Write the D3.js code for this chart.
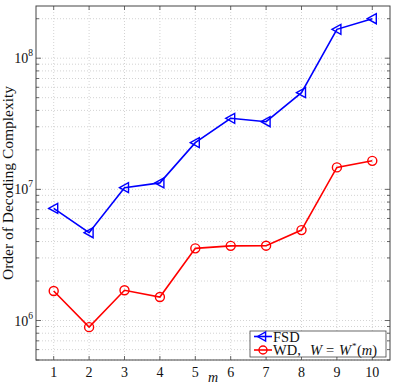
<!DOCTYPE html>
<html>
<head>
<meta charset="utf-8">
<script src="https://cdn.jsdelivr.net/npm/d3@7"></script>
<style>
  body { margin: 0; background: #fff; }
  svg text { font-family: "Liberation Serif", "DejaVu Serif", serif; fill: #111; }
</style>
</head>
<body>
<script>
// data
var mValues = [1, 2, 3, 4, 5, 6, 7, 8, 9, 10];
var fsd = [7.16e6, 4.67e6, 1.03e7, 1.12e7, 2.27e7, 3.48e7, 3.28e7, 5.46e7, 1.66e8, 2.0e8];
var wd  = [1.68e6, 8.9e5, 1.70e6, 1.51e6, 3.55e6, 3.71e6, 3.72e6, 4.89e6, 1.47e7, 1.65e7];
var yTickExps = [6, 7, 8];
var seriesNames = ["FSD", "WD"];

var width = 395, height = 385;
var margin = {left: 36, right: 5, top: 6, bottom: 25};

var svg = d3.select("body").append("svg")
  .attr("width", width)
  .attr("height", height);

var x = d3.scaleLinear().domain([0.5, 10.5]).range([margin.left, width - margin.right]);
var y = d3.scaleLog().domain([5e5, 2.5e8]).range([height - margin.bottom, margin.top]);

// grid
var minorTicks = [];
for (var e = 5; e <= 8; e++) {
  for (var k = 1; k <= 9; k++) {
    var v = k * Math.pow(10, e);
    if (v >= 5e5 && v <= 2.5e8) minorTicks.push(v);
  }
}
function isMajor(d) {
  return yTickExps.some(function (p) { return Math.abs(Math.pow(10, p) - d) < 1; });
}
var grid = svg.append("g");
grid.selectAll("line.gy").data(minorTicks).enter().append("line")
  .attr("x1", margin.left).attr("x2", width - margin.right)
  .attr("y1", function (d) { return y(d); }).attr("y2", function (d) { return y(d); })
  .attr("stroke", "#c8c8c8").attr("stroke-width", 0.8).attr("stroke-dasharray", "1,2");
grid.selectAll("line.gx").data(mValues).enter().append("line")
  .attr("y1", margin.top).attr("y2", height - margin.bottom)
  .attr("x1", function (d) { return x(d); }).attr("x2", function (d) { return x(d); })
  .attr("stroke", "#c8c8c8").attr("stroke-width", 0.8).attr("stroke-dasharray", "1,2");

// ticks inside the box
svg.selectAll("line.ty").data(minorTicks).enter().append("line")
  .attr("x1", margin.left).attr("x2", function (d) { return margin.left + (isMajor(d) ? 5 : 3); })
  .attr("y1", function (d) { return y(d); }).attr("y2", function (d) { return y(d); })
  .attr("stroke", "#444").attr("stroke-width", 0.8);
svg.selectAll("line.tyr").data(minorTicks).enter().append("line")
  .attr("x1", width - margin.right).attr("x2", function (d) { return width - margin.right - (isMajor(d) ? 5 : 3); })
  .attr("y1", function (d) { return y(d); }).attr("y2", function (d) { return y(d); })
  .attr("stroke", "#444").attr("stroke-width", 0.8);
svg.selectAll("line.tx").data(mValues).enter().append("line")
  .attr("y1", height - margin.bottom).attr("y2", height - margin.bottom - 4)
  .attr("x1", function (d) { return x(d); }).attr("x2", function (d) { return x(d); })
  .attr("stroke", "#444").attr("stroke-width", 0.8);
svg.selectAll("line.txt").data(mValues).enter().append("line")
  .attr("y1", margin.top).attr("y2", margin.top + 4)
  .attr("x1", function (d) { return x(d); }).attr("x2", function (d) { return x(d); })
  .attr("stroke", "#444").attr("stroke-width", 0.8);

// box
svg.append("rect")
  .attr("x", margin.left).attr("y", margin.top)
  .attr("width", width - margin.left - margin.right)
  .attr("height", height - margin.top - margin.bottom)
  .attr("fill", "none").attr("stroke", "#444").attr("stroke-width", 1);

// tick labels
svg.selectAll("text.xl").data(mValues).enter().append("text")
  .attr("x", function (d) { return x(d); })
  .attr("y", height - margin.bottom + 17)
  .attr("text-anchor", "middle")
  .style("font-size", "14px")
  .text(function (d) { return d; });

var yl = svg.selectAll("text.yl").data(yTickExps).enter().append("text")
  .attr("x", margin.left - 3)
  .attr("y", function (d) { return y(Math.pow(10, d)) + 5; })
  .attr("text-anchor", "end")
  .style("font-size", "14px");
yl.append("tspan").text("10");
yl.append("tspan").attr("dy", -7).style("font-size", "9.5px").text(function (d) { return d; });

// axis titles
svg.append("text")
  .attr("transform", "translate(12.5," + ((margin.top + height - margin.bottom) / 2) + ") rotate(-90)")
  .attr("text-anchor", "middle")
  .style("font-size", "15.5px")
  .text("Order of Decoding Complexity");
svg.append("text")
  .attr("x", 213)
  .attr("y", height - 3)
  .attr("text-anchor", "middle")
  .style("font-size", "14px").style("font-style", "italic")
  .text("m");

// series
var line = d3.line()
  .x(function (d, i) { return x(mValues[i]); })
  .y(function (d) { return y(d); });

function tri(cx, cy, s) {
  // left-pointing triangle
  return "M" + (cx - s) + "," + cy + "L" + (cx + s * 0.8) + "," + (cy - s) + "L" + (cx + s * 0.8) + "," + (cy + s) + "Z";
}

svg.append("path").datum(fsd).attr("d", line)
  .attr("fill", "none").attr("stroke", "#0000ff").attr("stroke-width", 1.6);
svg.selectAll("path.mk").data(fsd).enter().append("path")
  .attr("d", function (d, i) { return tri(x(mValues[i]), y(d), 5); })
  .attr("fill", "none").attr("stroke", "#0000ff").attr("stroke-width", 1.4);

svg.append("path").datum(wd).attr("d", line)
  .attr("fill", "none").attr("stroke", "#ff0000").attr("stroke-width", 1.6);
svg.selectAll("circle.mk").data(wd).enter().append("circle")
  .attr("cx", function (d, i) { return x(mValues[i]); })
  .attr("cy", function (d) { return y(d); })
  .attr("r", 4.5)
  .attr("fill", "none").attr("stroke", "#ff0000").attr("stroke-width", 1.4);

// legend
var lg = svg.append("g").attr("transform", "translate(250,331)");
lg.append("rect").attr("width", 136).attr("height", 26)
  .attr("fill", "#fff").attr("stroke", "#444").attr("stroke-width", 0.8);
lg.append("line").attr("x1", 4).attr("x2", 22).attr("y1", 5.5).attr("y2", 5.5)
  .attr("stroke", "#0000ff").attr("stroke-width", 1.6);
lg.append("path").attr("d", tri(12, 5.5, 4.5))
  .attr("fill", "none").attr("stroke", "#0000ff").attr("stroke-width", 1.4);
lg.append("text").attr("x", 23).attr("y", 10.5).style("font-size", "14.5px").text(seriesNames[0]);
lg.append("line").attr("x1", 4).attr("x2", 22).attr("y1", 19).attr("y2", 19)
  .attr("stroke", "#ff0000").attr("stroke-width", 1.6);
lg.append("circle").attr("cx", 13).attr("cy", 19).attr("r", 4)
  .attr("fill", "none").attr("stroke", "#ff0000").attr("stroke-width", 1.4);
var t2 = lg.append("text").attr("y", 24).style("font-size", "14.5px");
t2.append("tspan").attr("x", 23).text(seriesNames[1] + ",");
t2.append("tspan").attr("x", 60).style("font-style", "italic").text("W");
t2.append("tspan").attr("x", 76).text("=");
t2.append("tspan").attr("x", 89).style("font-style", "italic").text("W");
t2.append("tspan").attr("x", 102).attr("dy", -6).style("font-size", "9px").text("*");
t2.append("tspan").attr("x", 107).attr("dy", 6).text("(");
t2.append("tspan").style("font-style", "italic").text("m");
t2.append("tspan").text(")");
</script>
</body>
</html>
